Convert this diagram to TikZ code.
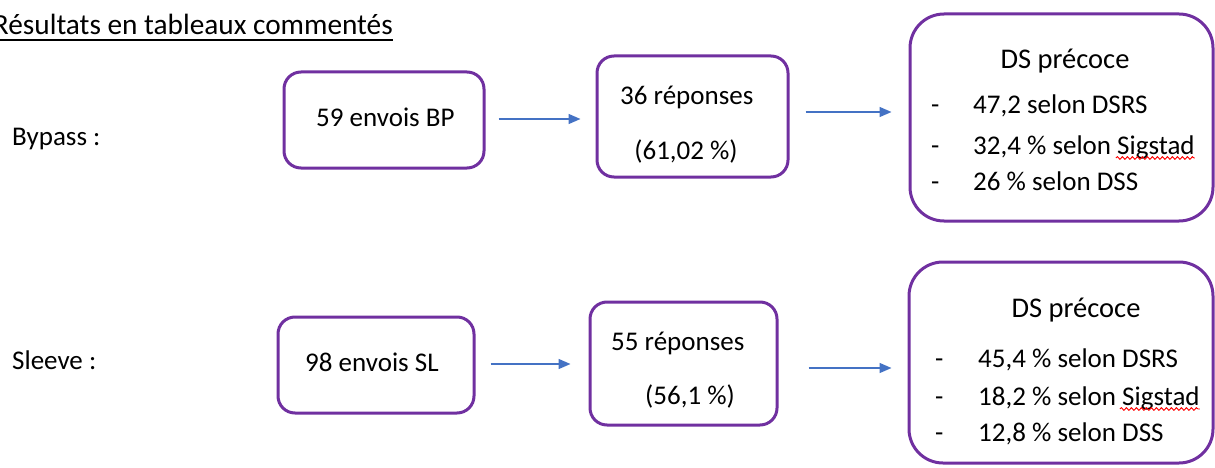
\documentclass[tikz,border=0pt]{standalone}
\usepackage{fontspec}
\setmainfont{Carlito}
\usetikzlibrary{arrows.meta,decorations.pathmorphing}
\definecolor{boxpurple}{HTML}{7030A0}
\definecolor{arrblue}{HTML}{4472C4}
\begin{document}
\begin{tikzpicture}[x=1pt,y=-1pt,
  every node/.style={font=\fontsize{27}{32}\selectfont, inner sep=0pt, text=black},
  box/.style={draw=boxpurple, line width=3pt, rounded corners=17pt},
  bigbox/.style={draw=boxpurple, line width=3pt, rounded corners=34pt},
  arr/.style={draw=arrblue, line width=1.5pt, -{Triangle[length=12pt,width=10pt]}},
  txt/.style={anchor=base west},
  ctr/.style={anchor=base},
  wave/.style={draw=red, line width=0.9pt, decorate, decoration={snake, amplitude=1.3pt, segment length=5pt}}]
\useasboundingbox (0,0) rectangle (1215,468);

% title
\node[anchor=base east, font=\fontsize{29.3}{32}\selectfont] (title) at (393,35) {Résultats en tableaux commentés};
\draw[line width=1.8pt] ([yshift=-5pt]title.base west) -- ([yshift=-5pt]title.base east);

% row labels
\node[txt] (bypass) at (12,146) {Bypass :};
\node[txt] (sleeve) at (12,369) {Sleeve :};

% row 1 boxes
\node[box, minimum width=200pt, minimum height=96pt] (b1) at (384,120) {};
\node[box, minimum width=191pt, minimum height=121pt] (b2) at (692.5,116.5) {};
\node[bigbox, minimum width=303pt, minimum height=207pt] (b3) at (1061.5,117.5) {};

\node[txt] (t1) at (316,127) {59 envois BP};
\node[txt] (t2a) at (620,105) {36 réponses};
\node[ctr] (t2b) at (686,159) {(61,02 \%)};
\node[ctr, font=\fontsize{28.5}{32}\selectfont] (t3h) at (1065,69) {DS précoce};
\node[txt] (d31) at (931,114) {-};
\node[txt] (d32) at (931,154) {-};
\node[txt] (d33) at (931,190) {-};
\node[txt] (l31) at (973,114) {47,2 selon DSRS};
\node[txt] (l32) at (973,154) {32,4 \% selon Sigstad};
\node[txt] (l33) at (973,190) {26 \% selon DSS};
\draw[wave] ([xshift=-79pt,yshift=-4pt]l32.base east) -- ([yshift=-4pt]l32.base east);

% row 2 boxes
\node[box, minimum width=196pt, minimum height=96pt] (b4) at (376,365) {};
\node[box, minimum width=187pt, minimum height=123pt] (b5) at (683.5,363.5) {};
\node[bigbox, minimum width=304pt, minimum height=201pt] (b6) at (1061,362.5) {};

\node[txt] (t4) at (305,371) {98 envois SL};
\node[txt] (t5a) at (611,350) {55 réponses};
\node[ctr] (t5b) at (690,404) {(56,1 \%)};
\node[ctr, font=\fontsize{28.5}{32}\selectfont] (t6h) at (1076,317) {DS précoce};
\node[txt] (d61) at (935,367) {-};
\node[txt] (d62) at (935,405) {-};
\node[txt] (d63) at (935,441) {-};
\node[txt] (l61) at (978,367) {45,4 \% selon DSRS};
\node[txt] (l62) at (978,405) {18,2 \% selon Sigstad};
\node[txt] (l63) at (978,441) {12,8 \% selon DSS};
\draw[wave] ([xshift=-80pt,yshift=-4pt]l62.base east) -- ([yshift=-4pt]l62.base east);

% arrows
\draw[arr, shorten <=13pt, shorten >=15pt] ([yshift=1pt]b1.east) -- ([yshift=1pt]b1.east -| b2.west);
\draw[arr, shorten <=16pt, shorten >=17pt] ([yshift=4.5pt]b2.east) -- ([yshift=4.5pt]b2.east -| b3.west);
\draw[arr, shorten <=15pt, shorten >=18pt] ([yshift=1pt]b4.east) -- ([yshift=1pt]b4.east -| b5.west);
\draw[arr, shorten <=30pt, shorten >=16pt] ([yshift=-4.5pt]b5.east) -- ([yshift=-4.5pt]b5.east -| b6.west);
\end{tikzpicture}
\end{document}
